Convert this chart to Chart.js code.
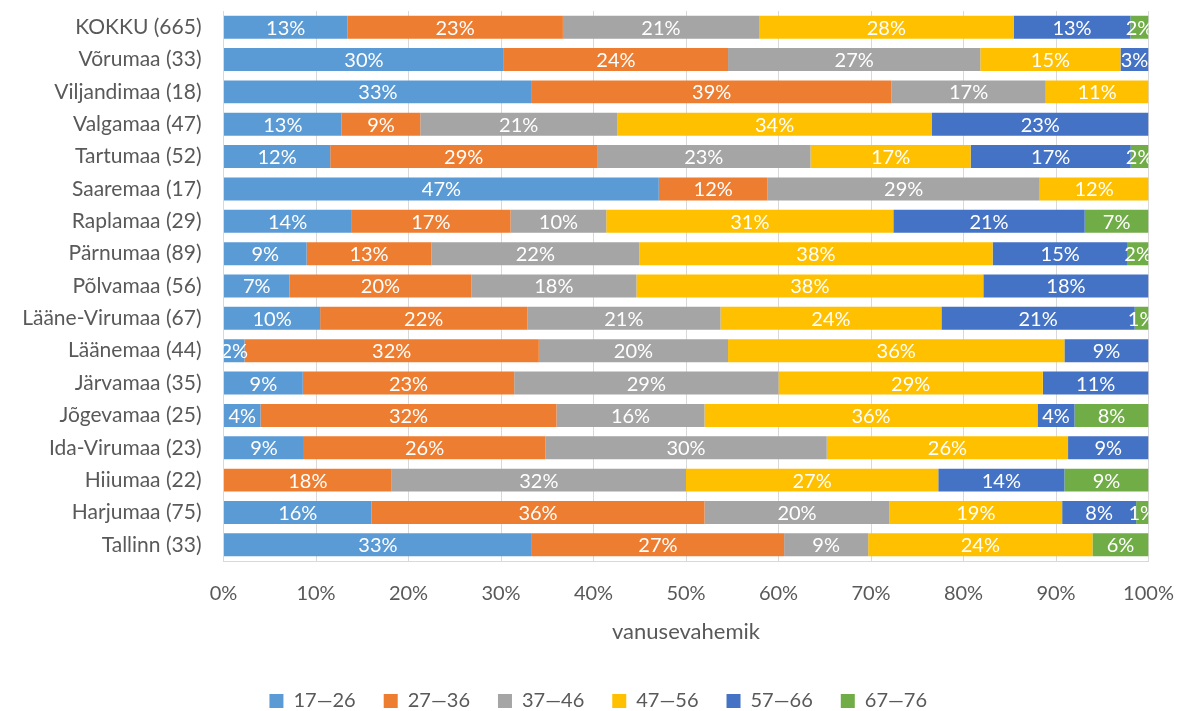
<!DOCTYPE html>
<html>
<head>
<meta charset="utf-8">
<script src="https://cdn.jsdelivr.net/npm/chart.js@4"></script>
<style>
  html, body { margin: 0; padding: 0; background: #fff; }
  #wrap { width: 1177px; height: 711px; }
</style>
</head>
<body>
<div id="wrap"><canvas id="ageChart"></canvas></div>
<script>
// regions with number of respondents
let regions = ["KOKKU (665)", "Võrumaa (33)", "Viljandimaa (18)", "Valgamaa (47)", "Tartumaa (52)",
    "Saaremaa (17)", "Raplamaa (29)", "Pärnumaa (89)", "Põlvamaa (56)", "Lääne-Virumaa (67)",
    "Läänemaa (44)", "Järvamaa (35)", "Jõgevamaa (25)", "Ida-Virumaa (23)", "Hiiumaa (22)",
    "Harjumaa (75)", "Tallinn (33)"];

let ageGroups = ["17—26", "27—36", "37—46", "47—56", "57—66", "67—76"];
let groupColors = ["#5B9BD5", "#ED7D31", "#A5A5A5", "#FFC000", "#4472C4", "#70AD47"];

// respondents per age group, same order as regions
let age17to26 = [89, 10, 6, 6, 6, 8, 4, 8, 4, 7, 1, 3, 1, 2, 0, 12, 11];
let age27to36 = [155, 8, 7, 4, 15, 2, 5, 12, 11, 15, 14, 8, 8, 6, 4, 27, 9];
let age37to46 = [141, 9, 3, 10, 12, 5, 3, 20, 10, 14, 9, 10, 4, 7, 7, 15, 3];
let age47to56 = [183, 5, 2, 16, 9, 2, 9, 34, 21, 16, 16, 10, 9, 6, 6, 14, 8];
let age57to66 = [84, 1, 0, 11, 9, 0, 6, 13, 10, 14, 4, 4, 1, 2, 3, 6, 0];
let age67to76 = [13, 0, 0, 0, 1, 0, 2, 2, 0, 1, 0, 0, 2, 0, 2, 1, 2];

let xTicks = [0, 10, 20, 30, 40, 50, 60, 70, 80, 90, 100];

const FONT = "Lato, 'Open Sans', sans-serif";
const GREY_TEXT = "#595959";

function toPercent(allCounts) {
    let totals = regions.map((r, i) => allCounts.reduce((s, c) => s + c[i], 0));
    return allCounts.map(c => c.map((v, i) => v / totals[i] * 100));
}

// white percentage labels in the middle of each segment
const segmentLabels = {
    id: 'segmentLabels',
    afterDatasetsDraw(chart) {
        let ctx = chart.ctx;
        let area = chart.chartArea;
        ctx.save();
        ctx.beginPath();
        ctx.rect(area.left, area.top, area.right - area.left, area.bottom - area.top);
        ctx.clip();
        ctx.fillStyle = "#fff";
        ctx.font = "20px " + FONT;
        ctx.textAlign = "center";
        ctx.textBaseline = "middle";
        chart.data.datasets.forEach((ds, di) => {
            let meta = chart.getDatasetMeta(di);
            meta.data.forEach((bar, i) => {
                let v = ds.data[i];
                if (!v) return;
                ctx.fillText(Math.round(v) + "%", (bar.x + bar.base) / 2, bar.y + 1);
            });
        });
        ctx.restore();
    }
};

// legend row sits a little right of the canvas centre
const legendShift = {
    id: 'legendShift',
    afterLayout(chart) {
        chart.legend.left += 24;
        chart.legend.right += 24;
    }
};

function noEdgePadding(axis) {
    axis.paddingTop = 0;
    axis.paddingBottom = 0;
    axis.paddingLeft = 0;
    axis.paddingRight = 0;
}

function buildChart() {
    let pct = toPercent([age17to26, age27to36, age37to46, age47to56, age57to66, age67to76]);
    return {
        type: 'bar',
        data: {
            labels: regions,
            datasets: ageGroups.map((g, i) => ({
                label: g,
                data: pct[i],
                backgroundColor: groupColors[i],
                borderWidth: 0,
                barPercentage: 0.71,
                categoryPercentage: 1
            }))
        },
        plugins: [segmentLabels, legendShift],
        options: {
            indexAxis: 'y',
            responsive: true,
            maintainAspectRatio: false,
            animation: false,
            layout: { padding: { top: 11, right: 28.5, left: 0, bottom: -10 } },
            scales: {
                x: {
                    stacked: true,
                    min: 0,
                    max: 100,
                    afterBuildTicks(axis) { axis.ticks = xTicks.map(v => ({ value: v })); },
                    afterFit(axis) {
                        noEdgePadding(axis);
                        axis.height = 102;
                    },
                    grid: { color: "#D9D9D9", lineWidth: 1, drawTicks: false },
                    border: { color: "#D9D9D9" },
                    ticks: {
                        color: GREY_TEXT,
                        font: { family: FONT, size: 20 },
                        padding: 21,
                        maxRotation: 0,
                        callback: v => v + "%"
                    },
                    title: {
                        display: true,
                        text: "vanusevahemik",
                        color: GREY_TEXT,
                        font: { family: FONT, size: 22 },
                        padding: { top: 15, bottom: 18 }
                    }
                },
                y: {
                    stacked: true,
                    grid: { display: false, drawTicks: false },
                    border: { color: "#D9D9D9" },
                    ticks: {
                        color: GREY_TEXT,
                        font: { family: FONT, size: 21 },
                        padding: 22
                    },
                    afterFit(axis) {
                        noEdgePadding(axis);
                        axis.width = 223.5;
                    }
                }
            },
            plugins: {
                legend: {
                    position: 'bottom',
                    labels: {
                        color: GREY_TEXT,
                        font: { family: FONT, size: 20 },
                        boxWidth: 14,
                        boxHeight: 14,
                        padding: 28
                    }
                },
                tooltip: { enabled: false }
            }
        }
    };
}

window.onload = function () {
    let ctx = document.getElementById("ageChart").getContext("2d");
    window.ageChart = new Chart(ctx, buildChart());
};
</script>
</body>
</html>
